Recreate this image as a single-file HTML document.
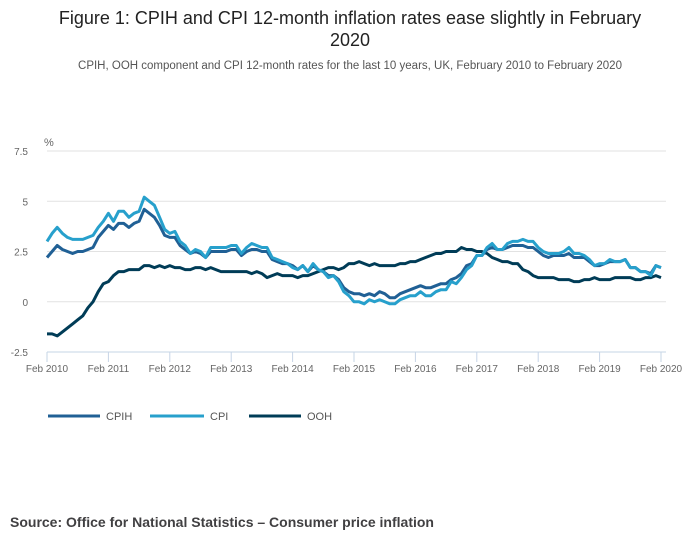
<!DOCTYPE html>
<html><head><meta charset="utf-8"><style>
body{margin:0;background:#fff;font-family:"Liberation Sans",sans-serif;}
</style></head><body>
<svg width="700" height="549" xmlns="http://www.w3.org/2000/svg" font-family="Liberation Sans, sans-serif">
<text x="350" y="24" text-anchor="middle" font-size="18" fill="#222">Figure 1: CPIH and CPI 12-month inflation rates ease slightly in February</text>
<text x="350" y="46" text-anchor="middle" font-size="18" fill="#222">2020</text>
<text x="350" y="69" text-anchor="middle" font-size="11.5" fill="#555">CPIH, OOH component and CPI 12-month rates for the last 10 years, UK, February 2010 to February 2020</text>
<text x="44" y="146" font-size="11" fill="#666">%</text>
<g id="grid"></g><g id="ylab"></g><g id="xlab"></g><g id="lines"></g>
<g>
<line x1="48" y1="416" x2="100" y2="416" stroke="#206095" stroke-width="3"/>
<text x="106" y="420" font-size="11" fill="#555">CPIH</text>
<line x1="150" y1="416" x2="204" y2="416" stroke="#27a0cc" stroke-width="3"/>
<text x="210" y="420" font-size="11" fill="#555">CPI</text>
<line x1="249" y1="416" x2="301" y2="416" stroke="#003c57" stroke-width="3"/>
<text x="307" y="420" font-size="11" fill="#555">OOH</text>
</g>
<text x="10" y="527" font-size="14" font-weight="bold" fill="#414042">Source: Office for National Statistics – Consumer price inflation</text>
</svg>
<script>
const yTicks=[7.5,5,2.5,0,-2.5];
const yTickLabels=["7.5","5","2.5","0","-2.5"];
const xTickLabels=["Feb 2010","Feb 2011","Feb 2012","Feb 2013","Feb 2014","Feb 2015","Feb 2016","Feb 2017","Feb 2018","Feb 2019","Feb 2020"];
const cpih=[2.2,2.5,2.8,2.6,2.5,2.4,2.5,2.5,2.6,2.7,3.2,
3.5,3.8,3.6,3.9,3.9,3.7,3.9,4.0,4.6,4.4,4.2,3.8,
3.3,3.2,3.2,2.8,2.6,2.4,2.5,2.4,2.2,2.5,2.5,2.5,
2.5,2.6,2.6,2.3,2.5,2.6,2.6,2.5,2.5,2.1,2.0,1.9,
1.9,1.8,1.6,1.8,1.5,1.8,1.6,1.5,1.3,1.3,1.1,0.7,
0.5,0.4,0.4,0.3,0.4,0.3,0.5,0.4,0.2,0.2,0.4,0.5,
0.6,0.7,0.8,0.7,0.7,0.8,0.9,0.9,1.1,1.2,1.4,1.8,
1.9,2.3,2.3,2.6,2.7,2.6,2.6,2.7,2.8,2.8,2.8,2.7,
2.7,2.5,2.3,2.2,2.3,2.3,2.3,2.4,2.2,2.2,2.2,2.0,
1.8,1.8,1.9,2.0,2.0,2.0,2.1,1.7,1.7,1.5,1.5,1.4,
1.8,1.7];
const cpi=[3.0,3.4,3.7,3.4,3.2,3.1,3.1,3.1,3.2,3.3,3.7,
4.0,4.4,4.0,4.5,4.5,4.2,4.4,4.5,5.2,5.0,4.8,4.2,
3.6,3.4,3.5,3.0,2.8,2.4,2.6,2.5,2.2,2.7,2.7,2.7,
2.7,2.8,2.8,2.4,2.7,2.9,2.8,2.7,2.7,2.2,2.1,2.0,
1.9,1.7,1.6,1.8,1.5,1.9,1.6,1.5,1.2,1.3,1.0,0.5,
0.3,0.0,0.0,-0.1,0.1,0.0,0.1,0.0,-0.1,-0.1,0.1,0.2,
0.3,0.3,0.5,0.3,0.3,0.5,0.6,0.6,1.0,0.9,1.2,1.6,
1.8,2.3,2.3,2.7,2.9,2.6,2.6,2.9,3.0,3.0,3.1,3.0,
3.0,2.7,2.5,2.4,2.4,2.4,2.5,2.7,2.4,2.4,2.3,2.1,
1.8,1.9,1.9,2.1,2.0,2.0,2.1,1.7,1.7,1.5,1.5,1.3,
1.8,1.7];
const ooh=[-1.6,-1.6,-1.7,-1.5,-1.3,-1.1,-0.9,-0.7,-0.3,0.0,0.5,
0.9,1.0,1.3,1.5,1.5,1.6,1.6,1.6,1.8,1.8,1.7,1.8,
1.7,1.8,1.7,1.7,1.6,1.6,1.7,1.7,1.6,1.7,1.6,1.5,
1.5,1.5,1.5,1.5,1.5,1.4,1.5,1.4,1.2,1.3,1.4,1.3,
1.3,1.3,1.2,1.3,1.3,1.4,1.5,1.6,1.7,1.7,1.6,1.7,
1.9,1.9,2.0,1.9,1.8,1.9,1.8,1.8,1.8,1.8,1.9,1.9,
2.0,2.0,2.1,2.2,2.3,2.4,2.4,2.5,2.5,2.5,2.7,2.6,
2.6,2.5,2.5,2.4,2.2,2.1,2.0,2.0,1.9,1.9,1.6,1.5,
1.3,1.2,1.2,1.2,1.2,1.1,1.1,1.1,1.0,1.0,1.1,1.1,
1.2,1.1,1.1,1.1,1.2,1.2,1.2,1.2,1.1,1.1,1.2,1.2,
1.3,1.2];
const NS="http://www.w3.org/2000/svg";
const X0=47,X1=661,Y0=151,Y1=352;
const xScale=i=>X0+(X1-X0)*i/120;
const yScale=v=>Y0+(7.5-v)*(Y1-Y0)/10;
const grid=document.getElementById('grid'),ylab=document.getElementById('ylab'),xlab=document.getElementById('xlab'),lines=document.getElementById('lines');
yTicks.forEach((t,k)=>{
  const l=document.createElementNS(NS,'line');
  l.setAttribute('x1',X0);l.setAttribute('x2',666);l.setAttribute('y1',yScale(t));l.setAttribute('y2',yScale(t));
  l.setAttribute('stroke',t===-2.5?'#c6d4e6':'#e2e2e2');l.setAttribute('stroke-width','1');
  
  
  grid.appendChild(l);
  const tx=document.createElementNS(NS,'text');
  tx.setAttribute('x',28);tx.setAttribute('y',yScale(t)+4);tx.setAttribute('text-anchor','end');
  tx.setAttribute('font-size','10');tx.setAttribute('fill','#666');tx.textContent=yTickLabels[k];
  
  
  ylab.appendChild(tx);
});
xTickLabels.forEach((s,k)=>{
  const x=xScale(k*12);
  const tk=document.createElementNS(NS,'line');
  tk.setAttribute('x1',x);tk.setAttribute('x2',x);tk.setAttribute('y1',Y1);tk.setAttribute('y2',Y1+10);tk.setAttribute('stroke','#c6d4e6');
  
  
  xlab.appendChild(tk);
  const tx=document.createElementNS(NS,'text');
  tx.setAttribute('x',x);tx.setAttribute('y',372);tx.setAttribute('text-anchor','middle');
  tx.setAttribute('font-size','10');tx.setAttribute('fill','#666');tx.textContent=s;
  
  
  xlab.appendChild(tx);
});
function draw(arr,color,name){
  const p=document.createElementNS(NS,'polyline');
  p.setAttribute('points',arr.map((v,i)=>xScale(i).toFixed(1)+','+yScale(v).toFixed(1)).join(' '));
  p.setAttribute('fill','none');p.setAttribute('stroke',color);p.setAttribute('stroke-width','3');p.setAttribute('stroke-linejoin','round');
  
  
  lines.appendChild(p);
}
draw(ooh,'#003c57','ooh-line');
draw(cpih,'#206095','cpih-line');
draw(cpi,'#27a0cc','cpi-line');
</script>
</body></html>
